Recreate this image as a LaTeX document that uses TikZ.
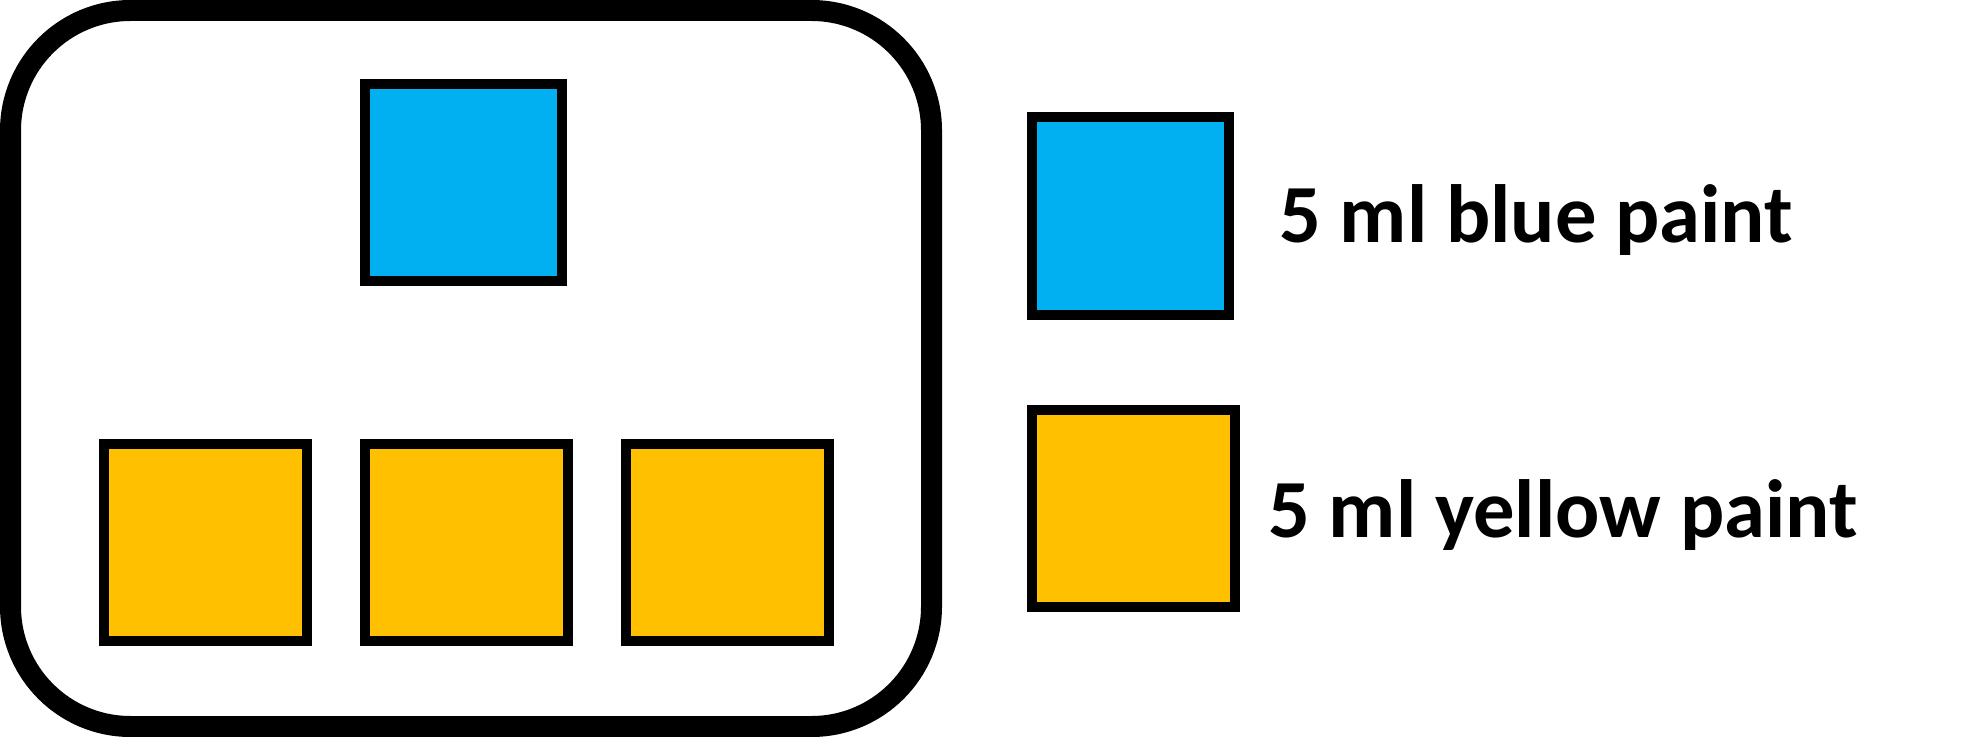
\documentclass[tikz,border=0pt]{standalone}
\usepackage{fontspec}
\setmainfont{Carlito}
\definecolor{paintblue}{HTML}{00B0F0}
\definecolor{paintyellow}{HTML}{FFC000}
\tikzset{
  tray/.style={draw=black, line width=21*0.5pt, rounded corners=120*0.5pt, inner sep=0pt, fill=white},
  cup/.style={draw=black, line width=10*0.5pt, inner sep=0pt},
  bluecup/.style={cup, fill=paintblue},
  yellowcup/.style={cup, fill=paintyellow},
  legendtext/.style={anchor=base west, inner sep=0pt, font=\fontsize{41.3pt}{48pt}\selectfont\bfseries}
}
\begin{document}
\begin{tikzpicture}[x=0.5pt, y=-0.5pt]
\useasboundingbox (0,0) rectangle (1986,737);
% tray
\node[tray, minimum width=921*0.5pt, minimum height=716*0.5pt] (tray) at (471,368.5) {};
% blue cup in tray
\node[bluecup, minimum width=197*0.5pt, minimum height=197*0.5pt] (b1) at (463.5,182.5) {};
% yellow cups in tray
\node[yellowcup, minimum width=203*0.5pt, minimum height=197*0.5pt] (y1) at (205.5,542.5) {};
\node[yellowcup, minimum width=203*0.5pt, minimum height=197*0.5pt] (y2) at (466.5,542.5) {};
\node[yellowcup, minimum width=203*0.5pt, minimum height=197*0.5pt] (y3) at (727.5,542.5) {};
% legend
\node[bluecup, minimum width=197*0.5pt, minimum height=198*0.5pt] (lb) at (1130.5,216) {};
\node[yellowcup, minimum width=203*0.5pt, minimum height=197*0.5pt] (ly) at (1133.5,508.5) {};
\node[legendtext] (tb) at (1279,243) {5 ml blue paint};
\node[legendtext] (ty) at (1268,537) {5 ml yellow paint};
\end{tikzpicture}
\end{document}
